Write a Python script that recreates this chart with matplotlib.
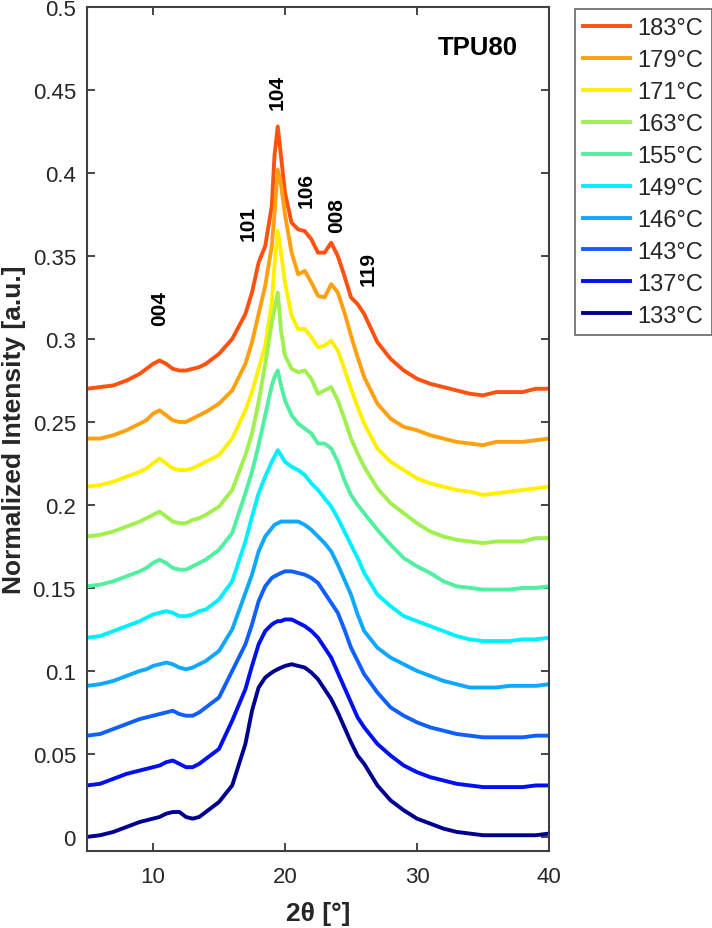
import matplotlib
matplotlib.use("Agg")
import matplotlib.pyplot as plt
from matplotlib.ticker import FuncFormatter, FixedLocator

plt.rcParams['font.family'] = ['Liberation Sans', 'DejaVu Sans']

two_theta = [5, 6, 7, 8, 9, 9.5, 10, 10.5, 11, 11.5, 12, 12.5, 13, 13.5, 14, 15, 16, 17,
             17.5, 18, 18.5, 19, 19.2, 19.45, 19.7, 20, 20.5, 21, 21.5, 22, 22.5, 23, 23.5,
             24, 24.5, 25, 25.5, 26, 27, 28, 29, 30, 31, 32, 33, 34, 35, 36, 37, 38, 39, 40]

labels = ['183°C', '179°C', '171°C', '163°C', '155°C', '149°C', '146°C', '143°C', '137°C', '133°C']
colors = ['#FF5210', '#FFA010', '#FFF000', '#A0F050', '#50F0A0', '#00F0FF', '#10A8FF',
          '#1060FF', '#0010F0', '#000090']

i_183 = [0.270, 0.271, 0.272, 0.275, 0.279, 0.282, 0.285, 0.287, 0.285, 0.282, 0.281, 0.281,
         0.282, 0.283, 0.285, 0.291, 0.300, 0.315, 0.328, 0.346, 0.356, 0.380, 0.410, 0.428,
         0.410, 0.388, 0.370, 0.366, 0.365, 0.360, 0.352, 0.352, 0.358, 0.350, 0.338, 0.325,
         0.321, 0.315, 0.298, 0.288, 0.281, 0.276, 0.273, 0.271, 0.269, 0.267, 0.266, 0.268,
         0.268, 0.268, 0.270, 0.270]
i_179 = [0.240, 0.240, 0.242, 0.245, 0.249, 0.251, 0.255, 0.257, 0.254, 0.251, 0.250, 0.250,
         0.252, 0.254, 0.256, 0.261, 0.269, 0.285, 0.298, 0.315, 0.332, 0.356, 0.375, 0.402,
         0.393, 0.375, 0.352, 0.339, 0.341, 0.334, 0.326, 0.325, 0.333, 0.328, 0.316, 0.302,
         0.289, 0.277, 0.261, 0.252, 0.247, 0.245, 0.242, 0.240, 0.238, 0.237, 0.236, 0.238,
         0.238, 0.238, 0.239, 0.240]
i_171 = [0.211, 0.212, 0.214, 0.217, 0.220, 0.222, 0.225, 0.228, 0.225, 0.222, 0.221, 0.221,
         0.222, 0.224, 0.226, 0.230, 0.240, 0.257, 0.268, 0.282, 0.296, 0.322, 0.344, 0.365,
         0.352, 0.334, 0.314, 0.306, 0.306, 0.301, 0.295, 0.296, 0.299, 0.293, 0.282, 0.270,
         0.259, 0.249, 0.234, 0.226, 0.221, 0.216, 0.213, 0.211, 0.209, 0.208, 0.206, 0.207,
         0.208, 0.209, 0.210, 0.211]
i_163 = [0.181, 0.182, 0.184, 0.187, 0.190, 0.192, 0.194, 0.196, 0.193, 0.190, 0.189, 0.189,
         0.191, 0.192, 0.194, 0.199, 0.209, 0.230, 0.243, 0.262, 0.285, 0.310, 0.318, 0.328,
         0.305, 0.290, 0.282, 0.280, 0.281, 0.276, 0.267, 0.269, 0.271, 0.263, 0.252, 0.240,
         0.231, 0.223, 0.210, 0.201, 0.195, 0.189, 0.184, 0.181, 0.179, 0.178, 0.177, 0.178,
         0.178, 0.178, 0.180, 0.180]
i_155 = [0.151, 0.152, 0.154, 0.157, 0.160, 0.162, 0.165, 0.167, 0.165, 0.162, 0.161, 0.161,
         0.163, 0.165, 0.167, 0.173, 0.183, 0.207, 0.220, 0.236, 0.254, 0.272, 0.277, 0.281,
         0.272, 0.263, 0.254, 0.249, 0.246, 0.243, 0.237, 0.237, 0.234, 0.226, 0.215, 0.206,
         0.200, 0.195, 0.185, 0.176, 0.168, 0.163, 0.159, 0.154, 0.151, 0.150, 0.149, 0.149,
         0.149, 0.150, 0.150, 0.151]
i_149 = [0.120, 0.121, 0.124, 0.127, 0.130, 0.132, 0.134, 0.135, 0.136, 0.135, 0.133, 0.133,
         0.134, 0.136, 0.137, 0.143, 0.154, 0.178, 0.193, 0.207, 0.217, 0.226, 0.229, 0.233,
         0.230, 0.226, 0.223, 0.221, 0.218, 0.213, 0.209, 0.204, 0.199, 0.192, 0.184, 0.176,
         0.168, 0.159, 0.146, 0.139, 0.133, 0.130, 0.127, 0.124, 0.121, 0.119, 0.118, 0.118,
         0.118, 0.119, 0.119, 0.120]
i_146 = [0.091, 0.092, 0.094, 0.097, 0.100, 0.101, 0.103, 0.104, 0.105, 0.104, 0.102, 0.101,
         0.102, 0.104, 0.106, 0.112, 0.125, 0.147, 0.158, 0.172, 0.181, 0.186, 0.188, 0.189,
         0.190, 0.190, 0.190, 0.190, 0.188, 0.185, 0.181, 0.177, 0.172, 0.164, 0.155, 0.146,
         0.134, 0.124, 0.114, 0.108, 0.104, 0.100, 0.097, 0.094, 0.092, 0.090, 0.090, 0.090,
         0.091, 0.091, 0.091, 0.092]
i_143 = [0.061, 0.062, 0.065, 0.068, 0.071, 0.072, 0.073, 0.074, 0.075, 0.076, 0.074, 0.073,
         0.073, 0.075, 0.078, 0.084, 0.100, 0.116, 0.128, 0.142, 0.151, 0.156, 0.157, 0.158,
         0.159, 0.160, 0.160, 0.159, 0.158, 0.156, 0.153, 0.147, 0.141, 0.135, 0.125, 0.114,
         0.106, 0.098, 0.087, 0.078, 0.073, 0.069, 0.066, 0.064, 0.062, 0.061, 0.060, 0.060,
         0.060, 0.060, 0.061, 0.061]
i_137 = [0.031, 0.032, 0.035, 0.038, 0.040, 0.041, 0.042, 0.043, 0.045, 0.046, 0.044, 0.042,
         0.042, 0.044, 0.047, 0.053, 0.070, 0.089, 0.103, 0.116, 0.124, 0.128, 0.129, 0.130,
         0.130, 0.131, 0.131, 0.129, 0.127, 0.124, 0.120, 0.114, 0.108, 0.099, 0.090, 0.081,
         0.072, 0.066, 0.056, 0.049, 0.043, 0.039, 0.036, 0.034, 0.032, 0.031, 0.030, 0.030,
         0.030, 0.030, 0.031, 0.031]
i_133 = [0.000, 0.001, 0.003, 0.006, 0.009, 0.010, 0.011, 0.012, 0.014, 0.015, 0.015, 0.012,
         0.011, 0.012, 0.015, 0.021, 0.031, 0.056, 0.076, 0.090, 0.096, 0.099, 0.100, 0.101,
         0.102, 0.103, 0.104, 0.103, 0.102, 0.099, 0.095, 0.089, 0.083, 0.075, 0.066, 0.057,
         0.049, 0.044, 0.031, 0.022, 0.016, 0.011, 0.008, 0.005, 0.003, 0.002, 0.001, 0.001,
         0.001, 0.001, 0.001, 0.002]

series = [i_183, i_179, i_171, i_163, i_155, i_149, i_146, i_143, i_137, i_133]

peak_labels = ['004', '101', '104', '106', '008', '119']
peak_x = [10.5, 17.2, 19.4, 21.6, 23.9, 26.3]
peak_y = [0.319, 0.370, 0.449, 0.390, 0.375, 0.343]

xticks = [10, 20, 30, 40]
yticks = [0, 0.05, 0.1, 0.15, 0.2, 0.25, 0.3, 0.35, 0.4, 0.45, 0.5]

W, H = 712, 929
fig = plt.figure(figsize=(W / 100, H / 100), dpi=100)
ax = fig.add_axes([87 / W, 1 - 852 / H, (549 - 87) / W, (852 - 8) / H])

handles = []
for vals, lab, col in zip(series, labels, colors):
    h, = ax.plot(two_theta, vals, color=col, lw=2.8, label=lab, solid_joinstyle='round')
    handles.append(h)

for t, x, y in zip(peak_labels, peak_x, peak_y):
    ax.text(x, y, t, rotation=90, ha='center', va='center', fontsize=15,
            fontweight='bold', color='black')

ax.text(37.6, 0.476, 'TPU80', ha='right', va='center', fontsize=18.5,
        fontweight='bold', color='black')

ax.set_xlim(5, 40)
ax.set_ylim(-0.0085, 0.5)
ax.xaxis.set_major_locator(FixedLocator(xticks))
ax.yaxis.set_major_locator(FixedLocator(yticks))
ax.yaxis.set_major_formatter(FuncFormatter(lambda v, p: '%g' % v))
ax.tick_params(direction='in', length=6, width=1.2, colors='#262626', labelsize=16,
               top=True, right=True)
ax.tick_params(axis='x', pad=11)
ax.tick_params(axis='y', pad=8)
for s in ax.spines.values():
    s.set_color('#404040')
    s.set_linewidth(1.5)

ax.set_xlabel('2θ [°]', fontsize=19, fontweight='bold', color='#262626', labelpad=10)
ax.set_ylabel('Normalized Intensity [a.u.]', fontsize=19, fontweight='bold',
              color='#262626', labelpad=5)

leg = fig.legend(handles=handles, loc='upper left',
                 bbox_to_anchor=(575 / W, 1 - 10 / H), frameon=True, fancybox=False,
                 fontsize=17, handlelength=2.0, handletextpad=0.3, labelspacing=0.42,
                 borderpad=0.35, borderaxespad=0)
leg.get_frame().set_edgecolor('#404040')
leg.get_frame().set_linewidth(1.2)
for t in leg.get_texts():
    t.set_color('#262626')

fig.savefig('out.png', dpi=100)
